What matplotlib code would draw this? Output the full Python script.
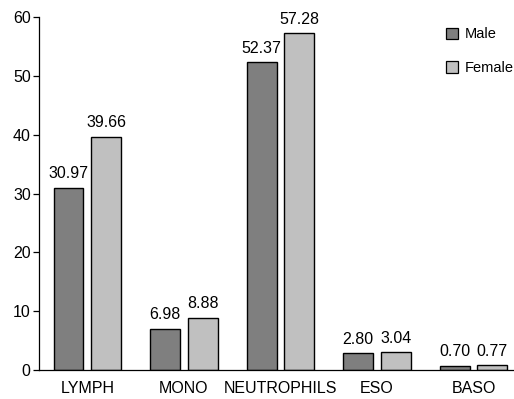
import numpy as np
import matplotlib
matplotlib.use("Agg")
import matplotlib.pyplot as plt
from matplotlib.patches import Patch

plt.rcParams.update({
    "font.family": ["Liberation Sans Narrow", "Liberation Sans", "DejaVu Sans"],
    "font.size": 11.5,
    "axes.linewidth": 0.9,
})

categories = ["LYMPH", "MONO", "NEUTROPHILS", "ESO", "BASO"]
male = [30.97, 6.98, 52.37, 2.80, 0.70]
female = [39.66, 8.88, 57.28, 3.04, 0.77]
male_labels = ["30.97", "6.98", "52.37", "2.80", "0.70"]
female_labels = ["39.66", "8.88", "57.28", "3.04", "0.77"]

fig = plt.figure(figsize=(5.14, 3.99), dpi=100)
ax = fig.add_axes([0.076, 0.073, 0.924, 0.884])
x = np.arange(len(categories))
w = 0.31
off = 0.195
bm = ax.bar(x - off, male, w, color="#7f7f7f", edgecolor="black", lw=1.0)
bf = ax.bar(x + off, female, w, color="#c0c0c0", edgecolor="black", lw=1.0)
for bars, labs in ((bm, male_labels), (bf, female_labels)):
    for b, t in zip(bars, labs):
        ax.text(b.get_x() + b.get_width() / 2, b.get_height() + 1.1, t,
                ha="center", va="bottom", fontsize=11.5)

ax.set_xlim(-0.5, 4.42)
ax.set_ylim(0, 60)
ax.set_yticks(range(0, 61, 10))
ax.set_xticks(x, categories)
ax.tick_params(axis="x", length=0, pad=8)
ax.tick_params(axis="y", length=4, width=0.9, direction="out", pad=2)
ax.spines[["top", "right"]].set_visible(False)

handles = [Patch(fc="#7f7f7f", ec="black", lw=0.9), Patch(fc="#c0c0c0", ec="black", lw=0.9)]
ax.legend(handles, ["Male", "Female"], frameon=False, loc="upper left",
          bbox_to_anchor=(0.835, 1.0), handlelength=0.8, handleheight=0.8,
          handletextpad=0.5, labelspacing=1.35, fontsize=10.5, borderpad=0.2)

fig.savefig("out.png", dpi=100)
